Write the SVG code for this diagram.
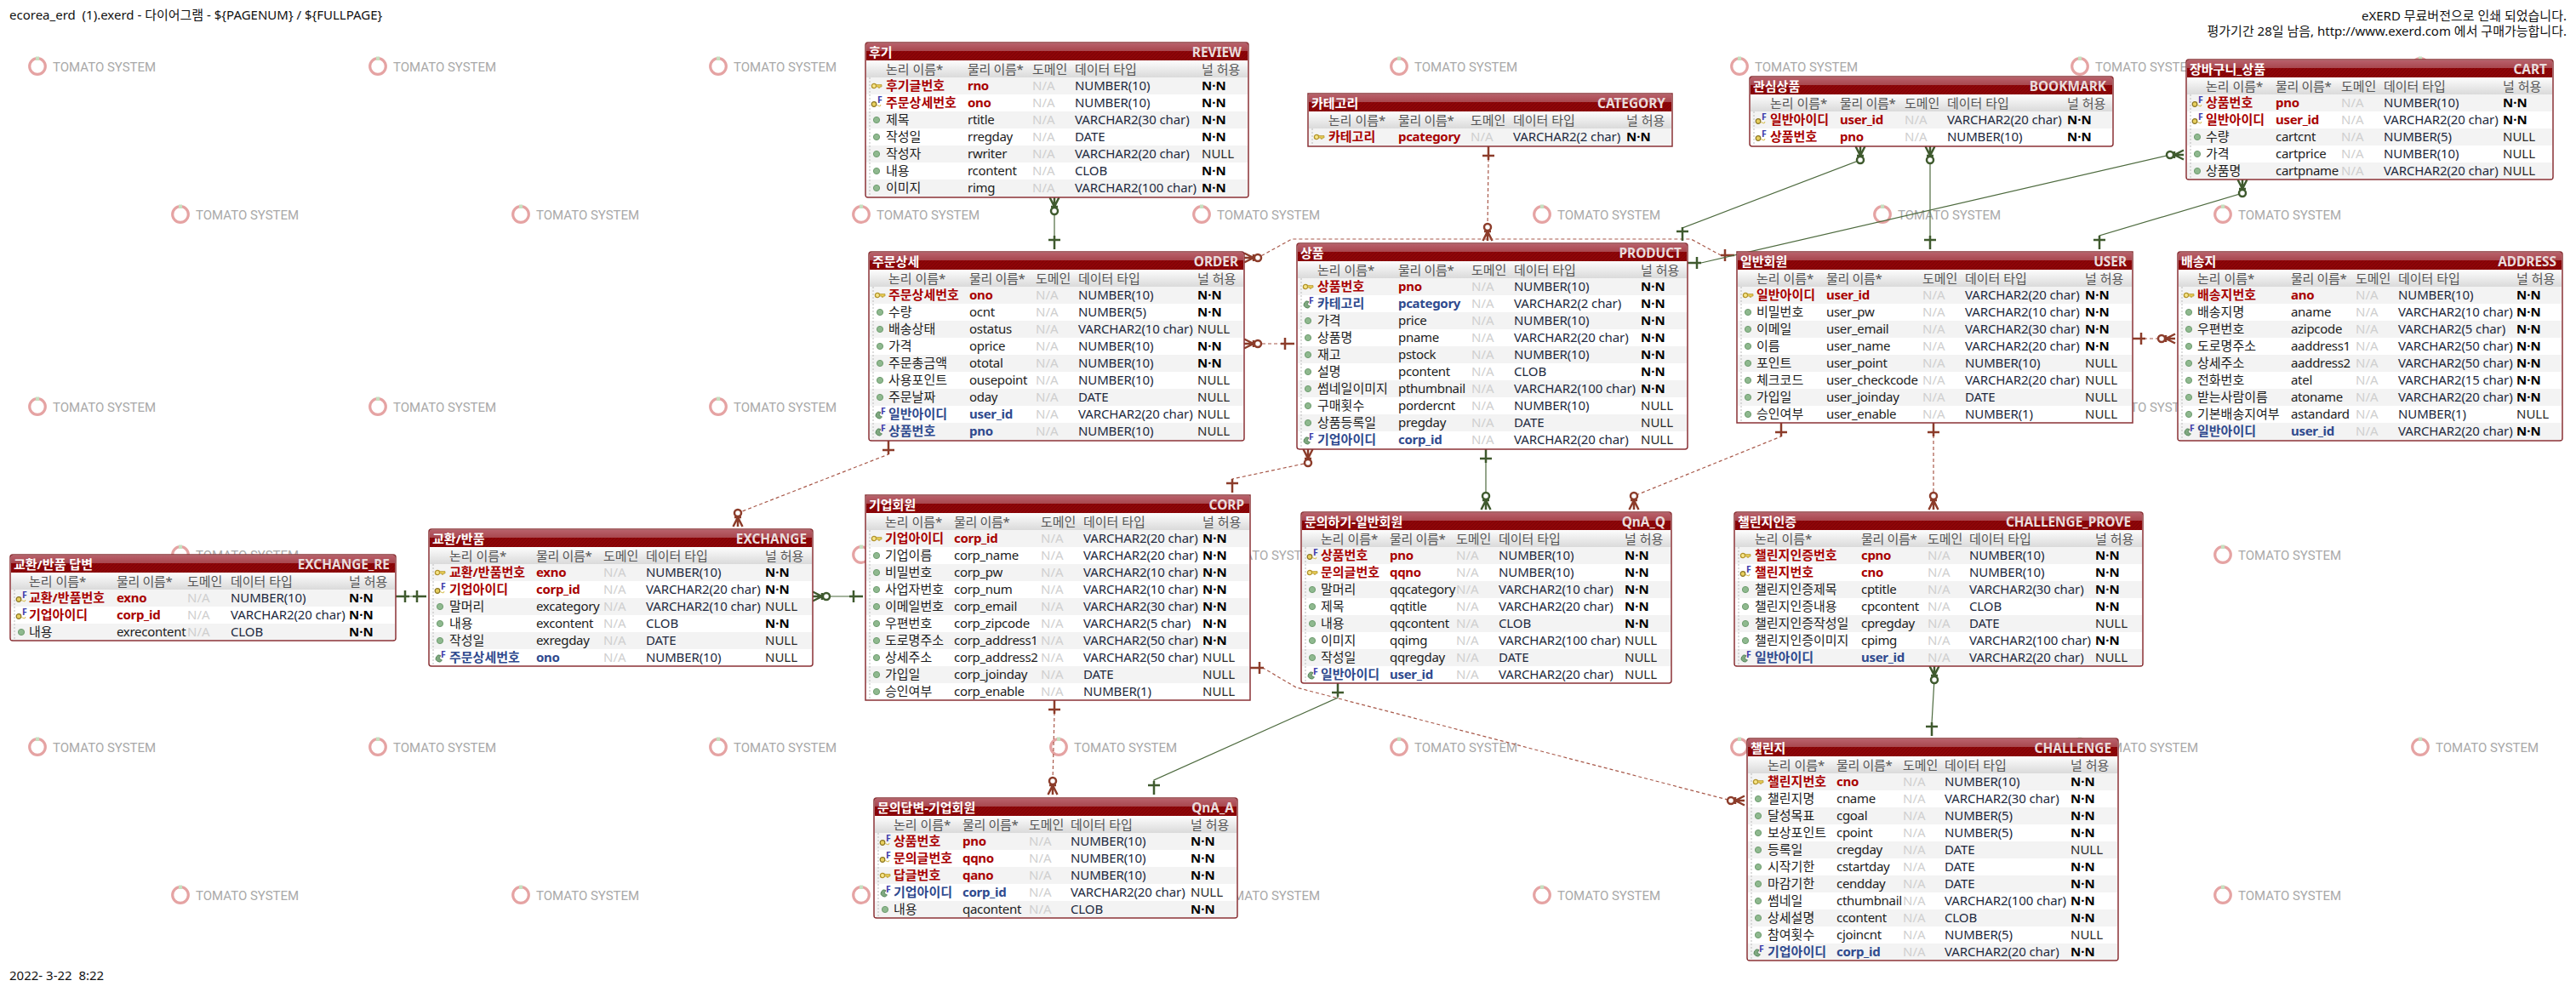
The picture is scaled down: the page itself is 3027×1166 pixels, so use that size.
<svg xmlns="http://www.w3.org/2000/svg" width="3027" height="1166" viewBox="0 0 3027 1166">
<style>
text{font-family:"Noto Sans","Noto Sans CJK KR",sans-serif;font-size:15px;fill:#1c1c1c}
text[x="104"],text[x="105"],text[x="106"],text[x="118"],text[x="119"],text[x="120"],text[x="125"],text[x="126"],text[x="133"],text[x="149"]{letter-spacing:-.3px}
.page{font-size:15px;fill:#111}
.wm{font-family:Roboto,"Noto Sans",sans-serif;font-size:15px;fill:#a9a9a9}
.fr{fill:#fff;stroke:#8a3236;stroke-width:1.5}
.t1{fill:url(#hg)}
.t2{fill:url(#hatch)}
.ch{fill:url(#cg)}
.z{fill:#f3f3f3}
.v{stroke:#bbb;stroke-width:1;stroke-dasharray:2 2}
.tl{font-weight:700;fill:#fff}
.tr{font-weight:700;fill:#eadddd;text-anchor:end;font-size:15.4px}
.h{fill:#555}
.k{font-weight:700;fill:#a80000}
.f{font-weight:700;fill:#2f4a8e}
.d{fill:#cfcfcf}
.t{fill:#222a40;letter-spacing:-.12px}
.b{font-weight:700;fill:#000}
.u{fill:#2a2a2a}
.ic{font-size:10.5px;font-weight:700;fill:#3c3caa}
.g{fill:none;stroke:#4d6a3e;stroke-width:1.2}
.r{fill:none;stroke:#a8594a;stroke-width:1.2;stroke-dasharray:4 3}
.mg{stroke:#3f5a2e;fill:none;stroke-width:2.5}
.mr{stroke:#8c3c2a;fill:none;stroke-width:2.5}
</style>
<defs>
<linearGradient id="hg" x1="0" y1="0" x2="0" y2="1"><stop offset="0" stop-color="#b8606a"/><stop offset="1" stop-color="#a8474e"/></linearGradient>
<linearGradient id="cg" x1="0" y1="0" x2="0" y2="1"><stop offset="0" stop-color="#fdfdfd"/><stop offset="1" stop-color="#dadada"/></linearGradient>
<pattern id="hatch" width="4" height="4" patternUnits="userSpaceOnUse"><rect width="4" height="4" fill="#8e0508"/><path d="M0 4L4 0" stroke="#7c0406" stroke-width="1"/></pattern>
<g id="rg"><circle cx="0" cy="0" r="9.3" fill="none" stroke="#e5a3a3" stroke-width="3.2"/><rect x="-2" y="-11.5" width="4" height="4.5" fill="#c6e0c0"/></g>
<circle id="o" cx="13" cy="0" r="3.6" fill="#8fb98f" stroke="#6f9d70"/>
<g id="ky"><circle cx="10" cy="0" r="2.6" fill="#f7e68a" stroke="#b0922a" stroke-width="1.3"/><path d="M12.5 -1.4H19V1H17V2.2H15V1H12.5Z" fill="#e6cc55" stroke="#b0922a" stroke-width=".7"/></g>
<g id="pf"><circle cx="10" cy="1.5" r="2.8" fill="#e8d060" stroke="#8a7420" stroke-width="1.2"/><text class="ic" x="14" y="0">F</text><path d="M13 2.5L17 4L18 2" fill="none" stroke="#d8bf50"/></g>
<g id="fk"><path d="M14 -2.5A4 4 0 1 0 15.5 3L12 1Z" fill="#7fa87f" stroke="#4f7f55" stroke-width=".8"/><text class="ic" x="14" y="0">F</text></g>
<marker id="g1" markerUnits="userSpaceOnUse" markerWidth="30" markerHeight="24" viewBox="-26 -12 30 24" refX="0" refY="0" orient="auto-start-reverse"><path class="mg" d="M-16 0H0M-11 -7V7"/></marker>
<marker id="r1" markerUnits="userSpaceOnUse" markerWidth="30" markerHeight="24" viewBox="-26 -12 30 24" refX="0" refY="0" orient="auto-start-reverse"><path class="mr" d="M-16 0H0M-11 -7V7"/></marker>
<marker id="gm" markerUnits="userSpaceOnUse" markerWidth="30" markerHeight="24" viewBox="-26 -12 30 24" refX="0" refY="0" orient="auto-start-reverse"><path class="mg" d="M-11 -4V4M-11 0L0 -5.5M-11 0H0M-11 0L0 5.5"/><circle class="mg" cx="-16" cy="0" r="4" style="fill:#fff"/></marker>
<marker id="rm" markerUnits="userSpaceOnUse" markerWidth="30" markerHeight="24" viewBox="-26 -12 30 24" refX="0" refY="0" orient="auto-start-reverse"><path class="mr" d="M-11 -4V4M-11 0L0 -5.5M-11 0H0M-11 0L0 5.5"/><circle class="mr" cx="-16" cy="0" r="4" style="fill:#fff"/></marker>
</defs>
<rect width="3027" height="1166" fill="#fff"/>
<text class="page" x="11" y="23" xml:space="preserve">ecorea_erd  (1).exerd - 다이어그램 - ${PAGENUM} / ${FULLPAGE}</text>
<text class="page" x="3016" y="24" text-anchor="end">eXERD 무료버전으로 인쇄 되었습니다.</text>
<text class="page" x="3016" y="42" text-anchor="end">평가기간 28일 남음, http://www.exerd.com 에서 구매가능합니다.</text>
<text class="page" x="11" y="1152" xml:space="preserve">2022- 3-22  8:22</text>
<g id="watermarks">
<use href="#rg" x="44" y="78"/><text class="wm" x="62" y="84">TOMATO SYSTEM</text>
<use href="#rg" x="444" y="78"/><text class="wm" x="462" y="84">TOMATO SYSTEM</text>
<use href="#rg" x="844" y="78"/><text class="wm" x="862" y="84">TOMATO SYSTEM</text>
<use href="#rg" x="1244" y="78"/><text class="wm" x="1262" y="84">TOMATO SYSTEM</text>
<use href="#rg" x="1644" y="78"/><text class="wm" x="1662" y="84">TOMATO SYSTEM</text>
<use href="#rg" x="2044" y="78"/><text class="wm" x="2062" y="84">TOMATO SYSTEM</text>
<use href="#rg" x="2444" y="78"/><text class="wm" x="2462" y="84">TOMATO SYSTEM</text>
<use href="#rg" x="2844" y="78"/><text class="wm" x="2862" y="84">TOMATO SYSTEM</text>
<use href="#rg" x="212" y="252"/><text class="wm" x="230" y="258">TOMATO SYSTEM</text>
<use href="#rg" x="612" y="252"/><text class="wm" x="630" y="258">TOMATO SYSTEM</text>
<use href="#rg" x="1012" y="252"/><text class="wm" x="1030" y="258">TOMATO SYSTEM</text>
<use href="#rg" x="1412" y="252"/><text class="wm" x="1430" y="258">TOMATO SYSTEM</text>
<use href="#rg" x="1812" y="252"/><text class="wm" x="1830" y="258">TOMATO SYSTEM</text>
<use href="#rg" x="2212" y="252"/><text class="wm" x="2230" y="258">TOMATO SYSTEM</text>
<use href="#rg" x="2612" y="252"/><text class="wm" x="2630" y="258">TOMATO SYSTEM</text>
<use href="#rg" x="44" y="478"/><text class="wm" x="62" y="484">TOMATO SYSTEM</text>
<use href="#rg" x="444" y="478"/><text class="wm" x="462" y="484">TOMATO SYSTEM</text>
<use href="#rg" x="844" y="478"/><text class="wm" x="862" y="484">TOMATO SYSTEM</text>
<use href="#rg" x="2444" y="478"/><text class="wm" x="2462" y="484">TOMATO SYSTEM</text>
<use href="#rg" x="212" y="652"/><text class="wm" x="230" y="658">TOMATO SYSTEM</text>
<use href="#rg" x="1012" y="652"/>
<text class="wm" x="1430" y="658">TOMATO SYSTEM</text>
<use href="#rg" x="1412" y="652"/>
<use href="#rg" x="2612" y="652"/><text class="wm" x="2630" y="658">TOMATO SYSTEM</text>
<use href="#rg" x="44" y="878"/><text class="wm" x="62" y="884">TOMATO SYSTEM</text>
<use href="#rg" x="444" y="878"/><text class="wm" x="462" y="884">TOMATO SYSTEM</text>
<use href="#rg" x="844" y="878"/><text class="wm" x="862" y="884">TOMATO SYSTEM</text>
<use href="#rg" x="1244" y="878"/><text class="wm" x="1262" y="884">TOMATO SYSTEM</text>
<use href="#rg" x="1644" y="878"/><text class="wm" x="1662" y="884">TOMATO SYSTEM</text>
<use href="#rg" x="2044" y="878"/><text class="wm" x="2062" y="884">TOMATO SYSTEM</text>
<use href="#rg" x="2444" y="878"/><text class="wm" x="2462" y="884">TOMATO SYSTEM</text>
<use href="#rg" x="2844" y="878"/><text class="wm" x="2862" y="884">TOMATO SYSTEM</text>
<use href="#rg" x="212" y="1052"/><text class="wm" x="230" y="1058">TOMATO SYSTEM</text>
<use href="#rg" x="612" y="1052"/><text class="wm" x="630" y="1058">TOMATO SYSTEM</text>
<use href="#rg" x="1012" y="1052"/><text class="wm" x="1030" y="1058">TOMATO SYSTEM</text>
<use href="#rg" x="1412" y="1052"/><text class="wm" x="1430" y="1058">TOMATO SYSTEM</text>
<use href="#rg" x="1812" y="1052"/><text class="wm" x="1830" y="1058">TOMATO SYSTEM</text>
<use href="#rg" x="2612" y="1052"/><text class="wm" x="2630" y="1058">TOMATO SYSTEM</text>
</g>
<g id="connectors">
<polyline class="g" points="1239,232 1239,293" marker-start="url(#gm)" marker-end="url(#g1)"/>
<polyline class="r" points="1749,172 1749,188 1748,267 1748,283" marker-start="url(#r1)" marker-end="url(#rm)"/>
<polyline class="r" points="1462,303 1478,303 1518,281 1987,281 2022,300 2038,300" marker-start="url(#rm)" marker-end="url(#r1)"/>
<polyline class="r" points="1462,404 1521,404" marker-start="url(#rm)" marker-end="url(#r1)"/>
<polyline class="r" points="1044,518 1044,534 867,603 867,619" marker-start="url(#r1)" marker-end="url(#rm)"/>
<polyline class="g" points="465,701 501,701" marker-start="url(#g1)" marker-end="url(#g1)"/>
<polyline class="g" points="955,701 1014,701" marker-start="url(#gm)" marker-end="url(#g1)"/>
<polyline class="g" points="1746,528 1746,599" marker-start="url(#g1)" marker-end="url(#gm)"/>
<polyline class="r" points="1448,579 1448,563 1537,544 1537,528" marker-start="url(#r1)" marker-end="url(#rm)"/>
<polyline class="r" points="2093,497 2093,513 1920,583 1920,599" marker-start="url(#r1)" marker-end="url(#rm)"/>
<polyline class="r" points="2272,497 2272,599" marker-start="url(#r1)" marker-end="url(#rm)"/>
<polyline class="g" points="2273,783 2273,798 2270,850 2270,865" marker-start="url(#gm)" marker-end="url(#g1)"/>
<polyline class="r" points="1469,785 1484,785 1523,808 2034,941 2050,941" marker-start="url(#r1)" marker-end="url(#rm)"/>
<polyline class="g" points="1572,803 1572,820 1356,917 1356,934" marker-start="url(#g1)" marker-end="url(#g1)"/>
<polyline class="r" points="1239,823 1239,839 1237,918 1237,934" marker-start="url(#r1)" marker-end="url(#rm)"/>
<polyline class="g" points="2186,172 2186,188 1977,268 1977,283" marker-start="url(#gm)" marker-end="url(#g1)"/>
<polyline class="g" points="2268,172 2268,293" marker-start="url(#gm)" marker-end="url(#g1)"/>
<polyline class="g" points="1983,309 1999,309 2550,182 2566,182" marker-start="url(#g1)" marker-end="url(#gm)"/>
<polyline class="g" points="2635,211 2635,227 2467,277 2467,293" marker-start="url(#gm)" marker-end="url(#g1)"/>
<polyline class="r" points="2505,398 2556,398" marker-start="url(#r1)" marker-end="url(#rm)"/>
</g>
<g id="REVIEW" transform="translate(1017,50)"><rect class="fr" width="450" height="182" rx="3"/><rect class="t1" x="1" y="1" width="448" height="9"/><rect class="t2" x="1" y="10" width="448" height="11"/><rect class="ch" x="1" y="21" width="448" height="20"/>
<rect class="z" x="1" y="41" width="448" height="20"/><rect class="z" x="1" y="81" width="448" height="20"/><rect class="z" x="1" y="121" width="448" height="20"/><rect class="z" x="1" y="161" width="448" height="20"/><line class="v" x1="5" x2="5" y1="41" y2="181"/>
<text class="tl" x="4" y="17">후기</text><text class="tr" x="442" y="17">REVIEW</text>
<text class="h" x="24" y="37">논리 이름*</text><text class="h" x="120" y="37">물리 이름*</text><text class="h" x="196" y="37">도메인</text><text class="h" x="246" y="37">데이터 타입</text><text class="h" x="395" y="37">널 허용</text>
<use href="#ky" y="51"/><text class="k" x="24" y="56">후기글번호</text><text class="k" x="120" y="56">rno</text><text class="d" x="196" y="56">N/A</text><text class="t" x="246" y="56">NUMBER(10)</text><text class="b" x="395" y="56">N·N</text>
<use href="#pf" y="71"/><text class="k" x="24" y="76">주문상세번호</text><text class="k" x="120" y="76">ono</text><text class="d" x="196" y="76">N/A</text><text class="t" x="246" y="76">NUMBER(10)</text><text class="b" x="395" y="76">N·N</text>
<use href="#o" y="91"/><text x="24" y="96">제목</text><text x="120" y="96">rtitle</text><text class="d" x="196" y="96">N/A</text><text class="t" x="246" y="96">VARCHAR2(30 char)</text><text class="b" x="395" y="96">N·N</text>
<use href="#o" y="111"/><text x="24" y="116">작성일</text><text x="120" y="116">rregday</text><text class="d" x="196" y="116">N/A</text><text class="t" x="246" y="116">DATE</text><text class="b" x="395" y="116">N·N</text>
<use href="#o" y="131"/><text x="24" y="136">작성자</text><text x="120" y="136">rwriter</text><text class="d" x="196" y="136">N/A</text><text class="t" x="246" y="136">VARCHAR2(20 char)</text><text class="u" x="395" y="136">NULL</text>
<use href="#o" y="151"/><text x="24" y="156">내용</text><text x="120" y="156">rcontent</text><text class="d" x="196" y="156">N/A</text><text class="t" x="246" y="156">CLOB</text><text class="b" x="395" y="156">N·N</text>
<use href="#o" y="171"/><text x="24" y="176">이미지</text><text x="120" y="176">rimg</text><text class="d" x="196" y="176">N/A</text><text class="t" x="246" y="176">VARCHAR2(100 char)</text><text class="b" x="395" y="176">N·N</text>
</g>
<g id="CATEGORY" transform="translate(1537,110)"><rect class="fr" width="428" height="62"/><rect class="t1" x="1" y="1" width="426" height="9"/><rect class="t2" x="1" y="10" width="426" height="11"/><rect class="ch" x="1" y="21" width="426" height="20"/>
<rect class="z" x="1" y="41" width="426" height="20"/><line class="v" x1="5" x2="5" y1="41" y2="61"/>
<text class="tl" x="4" y="17">카테고리</text><text class="tr" x="420" y="17">CATEGORY</text>
<text class="h" x="24" y="37">논리 이름*</text><text class="h" x="106" y="37">물리 이름*</text><text class="h" x="191" y="37">도메인</text><text class="h" x="241" y="37">데이터 타입</text><text class="h" x="374" y="37">널 허용</text>
<use href="#ky" y="51"/><text class="k" x="24" y="56">카테고리</text><text class="k" x="106" y="56">pcategory</text><text class="d" x="191" y="56">N/A</text><text class="t" x="241" y="56">VARCHAR2(2 char)</text><text class="b" x="374" y="56">N·N</text>
</g>
<g id="BOOKMARK" transform="translate(2056,90)"><rect class="fr" width="427" height="82" rx="3"/><rect class="t1" x="1" y="1" width="425" height="9"/><rect class="t2" x="1" y="10" width="425" height="11"/><rect class="ch" x="1" y="21" width="425" height="20"/>
<rect class="z" x="1" y="41" width="425" height="20"/><line class="v" x1="5" x2="5" y1="41" y2="81"/>
<text class="tl" x="4" y="17">관심상품</text><text class="tr" x="419" y="17">BOOKMARK</text>
<text class="h" x="24" y="37">논리 이름*</text><text class="h" x="106" y="37">물리 이름*</text><text class="h" x="182" y="37">도메인</text><text class="h" x="232" y="37">데이터 타입</text><text class="h" x="373" y="37">널 허용</text>
<use href="#pf" y="51"/><text class="k" x="24" y="56">일반아이디</text><text class="k" x="106" y="56">user_id</text><text class="d" x="182" y="56">N/A</text><text class="t" x="232" y="56">VARCHAR2(20 char)</text><text class="b" x="373" y="56">N·N</text>
<use href="#pf" y="71"/><text class="k" x="24" y="76">상품번호</text><text class="k" x="106" y="76">pno</text><text class="d" x="182" y="76">N/A</text><text class="t" x="232" y="76">NUMBER(10)</text><text class="b" x="373" y="76">N·N</text>
</g>
<g id="CART" transform="translate(2569,70)"><rect class="fr" width="431" height="141" rx="3"/><rect class="t1" x="1" y="1" width="429" height="9"/><rect class="t2" x="1" y="10" width="429" height="11"/><rect class="ch" x="1" y="21" width="429" height="20"/>
<rect class="z" x="1" y="41" width="429" height="20"/><rect class="z" x="1" y="81" width="429" height="20"/><rect class="z" x="1" y="121" width="429" height="19"/><line class="v" x1="5" x2="5" y1="41" y2="140"/>
<text class="tl" x="4" y="17">장바구니_상품</text><text class="tr" x="424" y="17">CART</text>
<text class="h" x="23" y="37">논리 이름*</text><text class="h" x="105" y="37">물리 이름*</text><text class="h" x="182" y="37">도메인</text><text class="h" x="232" y="37">데이터 타입</text><text class="h" x="372" y="37">널 허용</text>
<use href="#pf" y="51"/><text class="k" x="23" y="56">상품번호</text><text class="k" x="105" y="56">pno</text><text class="d" x="182" y="56">N/A</text><text class="t" x="232" y="56">NUMBER(10)</text><text class="b" x="372" y="56">N·N</text>
<use href="#pf" y="71"/><text class="k" x="23" y="76">일반아이디</text><text class="k" x="105" y="76">user_id</text><text class="d" x="182" y="76">N/A</text><text class="t" x="232" y="76">VARCHAR2(20 char)</text><text class="b" x="372" y="76">N·N</text>
<use href="#o" y="91"/><text x="23" y="96">수량</text><text x="105" y="96">cartcnt</text><text class="d" x="182" y="96">N/A</text><text class="t" x="232" y="96">NUMBER(5)</text><text class="u" x="372" y="96">NULL</text>
<use href="#o" y="111"/><text x="23" y="116">가격</text><text x="105" y="116">cartprice</text><text class="d" x="182" y="116">N/A</text><text class="t" x="232" y="116">NUMBER(10)</text><text class="u" x="372" y="116">NULL</text>
<use href="#o" y="131"/><text x="23" y="136">상품명</text><text x="105" y="136">cartpname</text><text class="d" x="182" y="136">N/A</text><text class="t" x="232" y="136">VARCHAR2(20 char)</text><text class="u" x="372" y="136">NULL</text>
</g>
<g id="ORDER" transform="translate(1021,296)"><rect class="fr" width="441" height="222" rx="3"/><rect class="t1" x="1" y="1" width="439" height="9"/><rect class="t2" x="1" y="10" width="439" height="11"/><rect class="ch" x="1" y="21" width="439" height="20"/>
<rect class="z" x="1" y="41" width="439" height="20"/><rect class="z" x="1" y="81" width="439" height="20"/><rect class="z" x="1" y="121" width="439" height="20"/><rect class="z" x="1" y="161" width="439" height="20"/><rect class="z" x="1" y="201" width="439" height="20"/><line class="v" x1="5" x2="5" y1="41" y2="221"/>
<text class="tl" x="4" y="17">주문상세</text><text class="tr" x="434" y="17">ORDER</text>
<text class="h" x="23" y="37">논리 이름*</text><text class="h" x="118" y="37">물리 이름*</text><text class="h" x="196" y="37">도메인</text><text class="h" x="246" y="37">데이터 타입</text><text class="h" x="386" y="37">널 허용</text>
<use href="#ky" y="51"/><text class="k" x="23" y="56">주문상세번호</text><text class="k" x="118" y="56">ono</text><text class="d" x="196" y="56">N/A</text><text class="t" x="246" y="56">NUMBER(10)</text><text class="b" x="386" y="56">N·N</text>
<use href="#o" y="71"/><text x="23" y="76">수량</text><text x="118" y="76">ocnt</text><text class="d" x="196" y="76">N/A</text><text class="t" x="246" y="76">NUMBER(5)</text><text class="b" x="386" y="76">N·N</text>
<use href="#o" y="91"/><text x="23" y="96">배송상태</text><text x="118" y="96">ostatus</text><text class="d" x="196" y="96">N/A</text><text class="t" x="246" y="96">VARCHAR2(10 char)</text><text class="u" x="386" y="96">NULL</text>
<use href="#o" y="111"/><text x="23" y="116">가격</text><text x="118" y="116">oprice</text><text class="d" x="196" y="116">N/A</text><text class="t" x="246" y="116">NUMBER(10)</text><text class="b" x="386" y="116">N·N</text>
<use href="#o" y="131"/><text x="23" y="136">주문총금액</text><text x="118" y="136">ototal</text><text class="d" x="196" y="136">N/A</text><text class="t" x="246" y="136">NUMBER(10)</text><text class="b" x="386" y="136">N·N</text>
<use href="#o" y="151"/><text x="23" y="156">사용포인트</text><text x="118" y="156">ousepoint</text><text class="d" x="196" y="156">N/A</text><text class="t" x="246" y="156">NUMBER(10)</text><text class="u" x="386" y="156">NULL</text>
<use href="#o" y="171"/><text x="23" y="176">주문날짜</text><text x="118" y="176">oday</text><text class="d" x="196" y="176">N/A</text><text class="t" x="246" y="176">DATE</text><text class="u" x="386" y="176">NULL</text>
<use href="#fk" y="191"/><text class="f" x="23" y="196">일반아이디</text><text class="f" x="118" y="196">user_id</text><text class="d" x="196" y="196">N/A</text><text class="t" x="246" y="196">VARCHAR2(20 char)</text><text class="u" x="386" y="196">NULL</text>
<use href="#fk" y="211"/><text class="f" x="23" y="216">상품번호</text><text class="f" x="118" y="216">pno</text><text class="d" x="196" y="216">N/A</text><text class="t" x="246" y="216">NUMBER(10)</text><text class="u" x="386" y="216">NULL</text>
</g>
<g id="PRODUCT" transform="translate(1524,286)"><rect class="fr" width="459" height="242" rx="3"/><rect class="t1" x="1" y="1" width="457" height="9"/><rect class="t2" x="1" y="10" width="457" height="11"/><rect class="ch" x="1" y="21" width="457" height="20"/>
<rect class="z" x="1" y="41" width="457" height="20"/><rect class="z" x="1" y="81" width="457" height="20"/><rect class="z" x="1" y="121" width="457" height="20"/><rect class="z" x="1" y="161" width="457" height="20"/><rect class="z" x="1" y="201" width="457" height="20"/><line class="v" x1="5" x2="5" y1="41" y2="241"/>
<text class="tl" x="4" y="17">상품</text><text class="tr" x="452" y="17">PRODUCT</text>
<text class="h" x="24" y="37">논리 이름*</text><text class="h" x="119" y="37">물리 이름*</text><text class="h" x="205" y="37">도메인</text><text class="h" x="255" y="37">데이터 타입</text><text class="h" x="404" y="37">널 허용</text>
<use href="#ky" y="51"/><text class="k" x="24" y="56">상품번호</text><text class="k" x="119" y="56">pno</text><text class="d" x="205" y="56">N/A</text><text class="t" x="255" y="56">NUMBER(10)</text><text class="b" x="404" y="56">N·N</text>
<use href="#fk" y="71"/><text class="f" x="24" y="76">카테고리</text><text class="f" x="119" y="76">pcategory</text><text class="d" x="205" y="76">N/A</text><text class="t" x="255" y="76">VARCHAR2(2 char)</text><text class="b" x="404" y="76">N·N</text>
<use href="#o" y="91"/><text x="24" y="96">가격</text><text x="119" y="96">price</text><text class="d" x="205" y="96">N/A</text><text class="t" x="255" y="96">NUMBER(10)</text><text class="b" x="404" y="96">N·N</text>
<use href="#o" y="111"/><text x="24" y="116">상품명</text><text x="119" y="116">pname</text><text class="d" x="205" y="116">N/A</text><text class="t" x="255" y="116">VARCHAR2(20 char)</text><text class="b" x="404" y="116">N·N</text>
<use href="#o" y="131"/><text x="24" y="136">재고</text><text x="119" y="136">pstock</text><text class="d" x="205" y="136">N/A</text><text class="t" x="255" y="136">NUMBER(10)</text><text class="b" x="404" y="136">N·N</text>
<use href="#o" y="151"/><text x="24" y="156">설명</text><text x="119" y="156">pcontent</text><text class="d" x="205" y="156">N/A</text><text class="t" x="255" y="156">CLOB</text><text class="b" x="404" y="156">N·N</text>
<use href="#o" y="171"/><text x="24" y="176">썸네일이미지</text><text x="119" y="176">pthumbnail</text><text class="d" x="205" y="176">N/A</text><text class="t" x="255" y="176">VARCHAR2(100 char)</text><text class="b" x="404" y="176">N·N</text>
<use href="#o" y="191"/><text x="24" y="196">구매횟수</text><text x="119" y="196">pordercnt</text><text class="d" x="205" y="196">N/A</text><text class="t" x="255" y="196">NUMBER(10)</text><text class="u" x="404" y="196">NULL</text>
<use href="#o" y="211"/><text x="24" y="216">상품등록일</text><text x="119" y="216">pregday</text><text class="d" x="205" y="216">N/A</text><text class="t" x="255" y="216">DATE</text><text class="u" x="404" y="216">NULL</text>
<use href="#fk" y="231"/><text class="f" x="24" y="236">기업아이디</text><text class="f" x="119" y="236">corp_id</text><text class="d" x="205" y="236">N/A</text><text class="t" x="255" y="236">VARCHAR2(20 char)</text><text class="u" x="404" y="236">NULL</text>
</g>
<g id="USER" transform="translate(2041,296)"><rect class="fr" width="465" height="201"/><rect class="t1" x="1" y="1" width="463" height="9"/><rect class="t2" x="1" y="10" width="463" height="11"/><rect class="ch" x="1" y="21" width="463" height="20"/>
<rect class="z" x="1" y="41" width="463" height="20"/><rect class="z" x="1" y="81" width="463" height="20"/><rect class="z" x="1" y="121" width="463" height="20"/><rect class="z" x="1" y="161" width="463" height="20"/><line class="v" x1="5" x2="5" y1="41" y2="200"/>
<text class="tl" x="4" y="17">일반회원</text><text class="tr" x="458" y="17">USER</text>
<text class="h" x="23" y="37">논리 이름*</text><text class="h" x="105" y="37">물리 이름*</text><text class="h" x="218" y="37">도메인</text><text class="h" x="268" y="37">데이터 타입</text><text class="h" x="409" y="37">널 허용</text>
<use href="#ky" y="51"/><text class="k" x="23" y="56">일반아이디</text><text class="k" x="105" y="56">user_id</text><text class="d" x="218" y="56">N/A</text><text class="t" x="268" y="56">VARCHAR2(20 char)</text><text class="b" x="409" y="56">N·N</text>
<use href="#o" y="71"/><text x="23" y="76">비밀번호</text><text x="105" y="76">user_pw</text><text class="d" x="218" y="76">N/A</text><text class="t" x="268" y="76">VARCHAR2(10 char)</text><text class="b" x="409" y="76">N·N</text>
<use href="#o" y="91"/><text x="23" y="96">이메일</text><text x="105" y="96">user_email</text><text class="d" x="218" y="96">N/A</text><text class="t" x="268" y="96">VARCHAR2(30 char)</text><text class="b" x="409" y="96">N·N</text>
<use href="#o" y="111"/><text x="23" y="116">이름</text><text x="105" y="116">user_name</text><text class="d" x="218" y="116">N/A</text><text class="t" x="268" y="116">VARCHAR2(20 char)</text><text class="b" x="409" y="116">N·N</text>
<use href="#o" y="131"/><text x="23" y="136">포인트</text><text x="105" y="136">user_point</text><text class="d" x="218" y="136">N/A</text><text class="t" x="268" y="136">NUMBER(10)</text><text class="u" x="409" y="136">NULL</text>
<use href="#o" y="151"/><text x="23" y="156">체크코드</text><text x="105" y="156">user_checkcode</text><text class="d" x="218" y="156">N/A</text><text class="t" x="268" y="156">VARCHAR2(20 char)</text><text class="u" x="409" y="156">NULL</text>
<use href="#o" y="171"/><text x="23" y="176">가입일</text><text x="105" y="176">user_joinday</text><text class="d" x="218" y="176">N/A</text><text class="t" x="268" y="176">DATE</text><text class="u" x="409" y="176">NULL</text>
<use href="#o" y="191"/><text x="23" y="196">승인여부</text><text x="105" y="196">user_enable</text><text class="d" x="218" y="196">N/A</text><text class="t" x="268" y="196">NUMBER(1)</text><text class="u" x="409" y="196">NULL</text>
</g>
<g id="ADDRESS" transform="translate(2559,296)"><rect class="fr" width="452" height="222" rx="3"/><rect class="t1" x="1" y="1" width="450" height="9"/><rect class="t2" x="1" y="10" width="450" height="11"/><rect class="ch" x="1" y="21" width="450" height="20"/>
<rect class="z" x="1" y="41" width="450" height="20"/><rect class="z" x="1" y="81" width="450" height="20"/><rect class="z" x="1" y="121" width="450" height="20"/><rect class="z" x="1" y="161" width="450" height="20"/><rect class="z" x="1" y="201" width="450" height="20"/><line class="v" x1="5" x2="5" y1="41" y2="221"/>
<text class="tl" x="4" y="17">배송지</text><text class="tr" x="445" y="17">ADDRESS</text>
<text class="h" x="23" y="37">논리 이름*</text><text class="h" x="133" y="37">물리 이름*</text><text class="h" x="209" y="37">도메인</text><text class="h" x="259" y="37">데이터 타입</text><text class="h" x="398" y="37">널 허용</text>
<use href="#ky" y="51"/><text class="k" x="23" y="56">배송지번호</text><text class="k" x="133" y="56">ano</text><text class="d" x="209" y="56">N/A</text><text class="t" x="259" y="56">NUMBER(10)</text><text class="b" x="398" y="56">N·N</text>
<use href="#o" y="71"/><text x="23" y="76">배송지명</text><text x="133" y="76">aname</text><text class="d" x="209" y="76">N/A</text><text class="t" x="259" y="76">VARCHAR2(10 char)</text><text class="b" x="398" y="76">N·N</text>
<use href="#o" y="91"/><text x="23" y="96">우편번호</text><text x="133" y="96">azipcode</text><text class="d" x="209" y="96">N/A</text><text class="t" x="259" y="96">VARCHAR2(5 char)</text><text class="b" x="398" y="96">N·N</text>
<use href="#o" y="111"/><text x="23" y="116">도로명주소</text><text x="133" y="116">aaddress1</text><text class="d" x="209" y="116">N/A</text><text class="t" x="259" y="116">VARCHAR2(50 char)</text><text class="b" x="398" y="116">N·N</text>
<use href="#o" y="131"/><text x="23" y="136">상세주소</text><text x="133" y="136">aaddress2</text><text class="d" x="209" y="136">N/A</text><text class="t" x="259" y="136">VARCHAR2(50 char)</text><text class="b" x="398" y="136">N·N</text>
<use href="#o" y="151"/><text x="23" y="156">전화번호</text><text x="133" y="156">atel</text><text class="d" x="209" y="156">N/A</text><text class="t" x="259" y="156">VARCHAR2(15 char)</text><text class="b" x="398" y="156">N·N</text>
<use href="#o" y="171"/><text x="23" y="176">받는사람이름</text><text x="133" y="176">atoname</text><text class="d" x="209" y="176">N/A</text><text class="t" x="259" y="176">VARCHAR2(20 char)</text><text class="b" x="398" y="176">N·N</text>
<use href="#o" y="191"/><text x="23" y="196">기본배송지여부</text><text x="133" y="196">astandard</text><text class="d" x="209" y="196">N/A</text><text class="t" x="259" y="196">NUMBER(1)</text><text class="u" x="398" y="196">NULL</text>
<use href="#fk" y="211"/><text class="f" x="23" y="216">일반아이디</text><text class="f" x="133" y="216">user_id</text><text class="d" x="209" y="216">N/A</text><text class="t" x="259" y="216">VARCHAR2(20 char)</text><text class="b" x="398" y="216">N·N</text>
</g>
<g id="EXCHANGE_RE" transform="translate(12,652)"><rect class="fr" width="453" height="101" rx="3"/><rect class="t1" x="1" y="1" width="451" height="9"/><rect class="t2" x="1" y="10" width="451" height="11"/><rect class="ch" x="1" y="21" width="451" height="20"/>
<rect class="z" x="1" y="41" width="451" height="20"/><rect class="z" x="1" y="81" width="451" height="19"/><line class="v" x1="5" x2="5" y1="41" y2="100"/>
<text class="tl" x="4" y="17">교환/반품 답변</text><text class="tr" x="446" y="17">EXCHANGE_RE</text>
<text class="h" x="22" y="37">논리 이름*</text><text class="h" x="125" y="37">물리 이름*</text><text class="h" x="208" y="37">도메인</text><text class="h" x="259" y="37">데이터 타입</text><text class="h" x="398" y="37">널 허용</text>
<use href="#pf" y="51"/><text class="k" x="22" y="56">교환/반품번호</text><text class="k" x="125" y="56">exno</text><text class="d" x="208" y="56">N/A</text><text class="t" x="259" y="56">NUMBER(10)</text><text class="b" x="398" y="56">N·N</text>
<use href="#pf" y="71"/><text class="k" x="22" y="76">기업아이디</text><text class="k" x="125" y="76">corp_id</text><text class="d" x="208" y="76">N/A</text><text class="t" x="259" y="76">VARCHAR2(20 char)</text><text class="b" x="398" y="76">N·N</text>
<use href="#o" y="91"/><text x="22" y="96">내용</text><text x="125" y="96">exrecontent</text><text class="d" x="208" y="96">N/A</text><text class="t" x="259" y="96">CLOB</text><text class="b" x="398" y="96">N·N</text>
</g>
<g id="EXCHANGE" transform="translate(504,622)"><rect class="fr" width="451" height="161" rx="3"/><rect class="t1" x="1" y="1" width="449" height="9"/><rect class="t2" x="1" y="10" width="449" height="11"/><rect class="ch" x="1" y="21" width="449" height="20"/>
<rect class="z" x="1" y="41" width="449" height="20"/><rect class="z" x="1" y="81" width="449" height="20"/><rect class="z" x="1" y="121" width="449" height="20"/><line class="v" x1="5" x2="5" y1="41" y2="160"/>
<text class="tl" x="4" y="17">교환/반품</text><text class="tr" x="444" y="17">EXCHANGE</text>
<text class="h" x="24" y="37">논리 이름*</text><text class="h" x="126" y="37">물리 이름*</text><text class="h" x="205" y="37">도메인</text><text class="h" x="255" y="37">데이터 타입</text><text class="h" x="395" y="37">널 허용</text>
<use href="#ky" y="51"/><text class="k" x="24" y="56">교환/반품번호</text><text class="k" x="126" y="56">exno</text><text class="d" x="205" y="56">N/A</text><text class="t" x="255" y="56">NUMBER(10)</text><text class="b" x="395" y="56">N·N</text>
<use href="#pf" y="71"/><text class="k" x="24" y="76">기업아이디</text><text class="k" x="126" y="76">corp_id</text><text class="d" x="205" y="76">N/A</text><text class="t" x="255" y="76">VARCHAR2(20 char)</text><text class="b" x="395" y="76">N·N</text>
<use href="#o" y="91"/><text x="24" y="96">말머리</text><text x="126" y="96">excategory</text><text class="d" x="205" y="96">N/A</text><text class="t" x="255" y="96">VARCHAR2(10 char)</text><text class="u" x="395" y="96">NULL</text>
<use href="#o" y="111"/><text x="24" y="116">내용</text><text x="126" y="116">excontent</text><text class="d" x="205" y="116">N/A</text><text class="t" x="255" y="116">CLOB</text><text class="b" x="395" y="116">N·N</text>
<use href="#o" y="131"/><text x="24" y="136">작성일</text><text x="126" y="136">exregday</text><text class="d" x="205" y="136">N/A</text><text class="t" x="255" y="136">DATE</text><text class="u" x="395" y="136">NULL</text>
<use href="#fk" y="151"/><text class="f" x="24" y="156">주문상세번호</text><text class="f" x="126" y="156">ono</text><text class="d" x="205" y="156">N/A</text><text class="t" x="255" y="156">NUMBER(10)</text><text class="u" x="395" y="156">NULL</text>
</g>
<g id="CORP" transform="translate(1017,582)"><rect class="fr" width="452" height="241"/><rect class="t1" x="1" y="1" width="450" height="9"/><rect class="t2" x="1" y="10" width="450" height="11"/><rect class="ch" x="1" y="21" width="450" height="20"/>
<rect class="z" x="1" y="41" width="450" height="20"/><rect class="z" x="1" y="81" width="450" height="20"/><rect class="z" x="1" y="121" width="450" height="20"/><rect class="z" x="1" y="161" width="450" height="20"/><rect class="z" x="1" y="201" width="450" height="20"/><line class="v" x1="5" x2="5" y1="41" y2="240"/>
<text class="tl" x="4" y="17">기업회원</text><text class="tr" x="445" y="17">CORP</text>
<text class="h" x="23" y="37">논리 이름*</text><text class="h" x="104" y="37">물리 이름*</text><text class="h" x="206" y="37">도메인</text><text class="h" x="256" y="37">데이터 타입</text><text class="h" x="396" y="37">널 허용</text>
<use href="#ky" y="51"/><text class="k" x="23" y="56">기업아이디</text><text class="k" x="104" y="56">corp_id</text><text class="d" x="206" y="56">N/A</text><text class="t" x="256" y="56">VARCHAR2(20 char)</text><text class="b" x="396" y="56">N·N</text>
<use href="#o" y="71"/><text x="23" y="76">기업이름</text><text x="104" y="76">corp_name</text><text class="d" x="206" y="76">N/A</text><text class="t" x="256" y="76">VARCHAR2(20 char)</text><text class="b" x="396" y="76">N·N</text>
<use href="#o" y="91"/><text x="23" y="96">비밀번호</text><text x="104" y="96">corp_pw</text><text class="d" x="206" y="96">N/A</text><text class="t" x="256" y="96">VARCHAR2(10 char)</text><text class="b" x="396" y="96">N·N</text>
<use href="#o" y="111"/><text x="23" y="116">사업자번호</text><text x="104" y="116">corp_num</text><text class="d" x="206" y="116">N/A</text><text class="t" x="256" y="116">VARCHAR2(10 char)</text><text class="b" x="396" y="116">N·N</text>
<use href="#o" y="131"/><text x="23" y="136">이메일번호</text><text x="104" y="136">corp_email</text><text class="d" x="206" y="136">N/A</text><text class="t" x="256" y="136">VARCHAR2(30 char)</text><text class="b" x="396" y="136">N·N</text>
<use href="#o" y="151"/><text x="23" y="156">우편번호</text><text x="104" y="156">corp_zipcode</text><text class="d" x="206" y="156">N/A</text><text class="t" x="256" y="156">VARCHAR2(5 char)</text><text class="b" x="396" y="156">N·N</text>
<use href="#o" y="171"/><text x="23" y="176">도로명주소</text><text x="104" y="176">corp_address1</text><text class="d" x="206" y="176">N/A</text><text class="t" x="256" y="176">VARCHAR2(50 char)</text><text class="b" x="396" y="176">N·N</text>
<use href="#o" y="191"/><text x="23" y="196">상세주소</text><text x="104" y="196">corp_address2</text><text class="d" x="206" y="196">N/A</text><text class="t" x="256" y="196">VARCHAR2(50 char)</text><text class="u" x="396" y="196">NULL</text>
<use href="#o" y="211"/><text x="23" y="216">가입일</text><text x="104" y="216">corp_joinday</text><text class="d" x="206" y="216">N/A</text><text class="t" x="256" y="216">DATE</text><text class="u" x="396" y="216">NULL</text>
<use href="#o" y="231"/><text x="23" y="236">승인여부</text><text x="104" y="236">corp_enable</text><text class="d" x="206" y="236">N/A</text><text class="t" x="256" y="236">NUMBER(1)</text><text class="u" x="396" y="236">NULL</text>
</g>
<g id="QnA_Q" transform="translate(1529,602)"><rect class="fr" width="435" height="201" rx="3"/><rect class="t1" x="1" y="1" width="433" height="9"/><rect class="t2" x="1" y="10" width="433" height="11"/><rect class="ch" x="1" y="21" width="433" height="20"/>
<rect class="z" x="1" y="41" width="433" height="20"/><rect class="z" x="1" y="81" width="433" height="20"/><rect class="z" x="1" y="121" width="433" height="20"/><rect class="z" x="1" y="161" width="433" height="20"/><line class="v" x1="5" x2="5" y1="41" y2="200"/>
<text class="tl" x="4" y="17">문의하기-일반회원</text><text class="tr" x="428" y="17">QnA_Q</text>
<text class="h" x="23" y="37">논리 이름*</text><text class="h" x="104" y="37">물리 이름*</text><text class="h" x="182" y="37">도메인</text><text class="h" x="232" y="37">데이터 타입</text><text class="h" x="380" y="37">널 허용</text>
<use href="#pf" y="51"/><text class="k" x="23" y="56">상품번호</text><text class="k" x="104" y="56">pno</text><text class="d" x="182" y="56">N/A</text><text class="t" x="232" y="56">NUMBER(10)</text><text class="b" x="380" y="56">N·N</text>
<use href="#ky" y="71"/><text class="k" x="23" y="76">문의글번호</text><text class="k" x="104" y="76">qqno</text><text class="d" x="182" y="76">N/A</text><text class="t" x="232" y="76">NUMBER(10)</text><text class="b" x="380" y="76">N·N</text>
<use href="#o" y="91"/><text x="23" y="96">말머리</text><text x="104" y="96">qqcategory</text><text class="d" x="182" y="96">N/A</text><text class="t" x="232" y="96">VARCHAR2(10 char)</text><text class="b" x="380" y="96">N·N</text>
<use href="#o" y="111"/><text x="23" y="116">제목</text><text x="104" y="116">qqtitle</text><text class="d" x="182" y="116">N/A</text><text class="t" x="232" y="116">VARCHAR2(20 char)</text><text class="b" x="380" y="116">N·N</text>
<use href="#o" y="131"/><text x="23" y="136">내용</text><text x="104" y="136">qqcontent</text><text class="d" x="182" y="136">N/A</text><text class="t" x="232" y="136">CLOB</text><text class="b" x="380" y="136">N·N</text>
<use href="#o" y="151"/><text x="23" y="156">이미지</text><text x="104" y="156">qqimg</text><text class="d" x="182" y="156">N/A</text><text class="t" x="232" y="156">VARCHAR2(100 char)</text><text class="u" x="380" y="156">NULL</text>
<use href="#o" y="171"/><text x="23" y="176">작성일</text><text x="104" y="176">qqregday</text><text class="d" x="182" y="176">N/A</text><text class="t" x="232" y="176">DATE</text><text class="u" x="380" y="176">NULL</text>
<use href="#fk" y="191"/><text class="f" x="23" y="196">일반아이디</text><text class="f" x="104" y="196">user_id</text><text class="d" x="182" y="196">N/A</text><text class="t" x="232" y="196">VARCHAR2(20 char)</text><text class="u" x="380" y="196">NULL</text>
</g>
<g id="CHALLENGE_PROVE" transform="translate(2038,602)"><rect class="fr" width="480" height="181" rx="3"/><rect class="t1" x="1" y="1" width="478" height="9"/><rect class="t2" x="1" y="10" width="478" height="11"/><rect class="ch" x="1" y="21" width="478" height="20"/>
<rect class="z" x="1" y="41" width="478" height="20"/><rect class="z" x="1" y="81" width="478" height="20"/><rect class="z" x="1" y="121" width="478" height="20"/><rect class="z" x="1" y="161" width="478" height="19"/><line class="v" x1="5" x2="5" y1="41" y2="180"/>
<text class="tl" x="4" y="17">챌린지인증</text><text class="tr" x="466" y="17">CHALLENGE_PROVE</text>
<text class="h" x="24" y="37">논리 이름*</text><text class="h" x="149" y="37">물리 이름*</text><text class="h" x="227" y="37">도메인</text><text class="h" x="276" y="37">데이터 타입</text><text class="h" x="424" y="37">널 허용</text>
<use href="#ky" y="51"/><text class="k" x="24" y="56">챌린지인증번호</text><text class="k" x="149" y="56">cpno</text><text class="d" x="227" y="56">N/A</text><text class="t" x="276" y="56">NUMBER(10)</text><text class="b" x="424" y="56">N·N</text>
<use href="#pf" y="71"/><text class="k" x="24" y="76">챌린지번호</text><text class="k" x="149" y="76">cno</text><text class="d" x="227" y="76">N/A</text><text class="t" x="276" y="76">NUMBER(10)</text><text class="b" x="424" y="76">N·N</text>
<use href="#o" y="91"/><text x="24" y="96">챌린지인증제목</text><text x="149" y="96">cptitle</text><text class="d" x="227" y="96">N/A</text><text class="t" x="276" y="96">VARCHAR2(30 char)</text><text class="b" x="424" y="96">N·N</text>
<use href="#o" y="111"/><text x="24" y="116">챌린지인증내용</text><text x="149" y="116">cpcontent</text><text class="d" x="227" y="116">N/A</text><text class="t" x="276" y="116">CLOB</text><text class="b" x="424" y="116">N·N</text>
<use href="#o" y="131"/><text x="24" y="136">챌린지인증작성일</text><text x="149" y="136">cpregday</text><text class="d" x="227" y="136">N/A</text><text class="t" x="276" y="136">DATE</text><text class="u" x="424" y="136">NULL</text>
<use href="#o" y="151"/><text x="24" y="156">챌린지인증이미지</text><text x="149" y="156">cpimg</text><text class="d" x="227" y="156">N/A</text><text class="t" x="276" y="156">VARCHAR2(100 char)</text><text class="b" x="424" y="156">N·N</text>
<use href="#fk" y="171"/><text class="f" x="24" y="176">일반아이디</text><text class="f" x="149" y="176">user_id</text><text class="d" x="227" y="176">N/A</text><text class="t" x="276" y="176">VARCHAR2(20 char)</text><text class="u" x="424" y="176">NULL</text>
</g>
<g id="QnA_A" transform="translate(1027,938)"><rect class="fr" width="427" height="141" rx="3"/><rect class="t1" x="1" y="1" width="425" height="9"/><rect class="t2" x="1" y="10" width="425" height="11"/><rect class="ch" x="1" y="21" width="425" height="20"/>
<rect class="z" x="1" y="41" width="425" height="20"/><rect class="z" x="1" y="81" width="425" height="20"/><rect class="z" x="1" y="121" width="425" height="19"/><line class="v" x1="5" x2="5" y1="41" y2="140"/>
<text class="tl" x="4" y="17">문의답변-기업회원</text><text class="tr" x="423" y="17">QnA_A</text>
<text class="h" x="23" y="37">논리 이름*</text><text class="h" x="104" y="37">물리 이름*</text><text class="h" x="182" y="37">도메인</text><text class="h" x="231" y="37">데이터 타입</text><text class="h" x="372" y="37">널 허용</text>
<use href="#pf" y="51"/><text class="k" x="23" y="56">상품번호</text><text class="k" x="104" y="56">pno</text><text class="d" x="182" y="56">N/A</text><text class="t" x="231" y="56">NUMBER(10)</text><text class="b" x="372" y="56">N·N</text>
<use href="#pf" y="71"/><text class="k" x="23" y="76">문의글번호</text><text class="k" x="104" y="76">qqno</text><text class="d" x="182" y="76">N/A</text><text class="t" x="231" y="76">NUMBER(10)</text><text class="b" x="372" y="76">N·N</text>
<use href="#ky" y="91"/><text class="k" x="23" y="96">답글번호</text><text class="k" x="104" y="96">qano</text><text class="d" x="182" y="96">N/A</text><text class="t" x="231" y="96">NUMBER(10)</text><text class="b" x="372" y="96">N·N</text>
<use href="#fk" y="111"/><text class="f" x="23" y="116">기업아이디</text><text class="f" x="104" y="116">corp_id</text><text class="d" x="182" y="116">N/A</text><text class="t" x="231" y="116">VARCHAR2(20 char)</text><text class="u" x="372" y="116">NULL</text>
<use href="#o" y="131"/><text x="23" y="136">내용</text><text x="104" y="136">qacontent</text><text class="d" x="182" y="136">N/A</text><text class="t" x="231" y="136">CLOB</text><text class="b" x="372" y="136">N·N</text>
</g>
<g id="CHALLENGE" transform="translate(2053,868)"><rect class="fr" width="436" height="261" rx="3"/><rect class="t1" x="1" y="1" width="434" height="9"/><rect class="t2" x="1" y="10" width="434" height="11"/><rect class="ch" x="1" y="21" width="434" height="20"/>
<rect class="z" x="1" y="41" width="434" height="20"/><rect class="z" x="1" y="81" width="434" height="20"/><rect class="z" x="1" y="121" width="434" height="20"/><rect class="z" x="1" y="161" width="434" height="20"/><rect class="z" x="1" y="201" width="434" height="20"/><rect class="z" x="1" y="241" width="434" height="19"/><line class="v" x1="5" x2="5" y1="41" y2="260"/>
<text class="tl" x="4" y="17">챌린지</text><text class="tr" x="428" y="17">CHALLENGE</text>
<text class="h" x="24" y="37">논리 이름*</text><text class="h" x="105" y="37">물리 이름*</text><text class="h" x="183" y="37">도메인</text><text class="h" x="232" y="37">데이터 타입</text><text class="h" x="380" y="37">널 허용</text>
<use href="#ky" y="51"/><text class="k" x="24" y="56">챌린지번호</text><text class="k" x="105" y="56">cno</text><text class="d" x="183" y="56">N/A</text><text class="t" x="232" y="56">NUMBER(10)</text><text class="b" x="380" y="56">N·N</text>
<use href="#o" y="71"/><text x="24" y="76">챌린지명</text><text x="105" y="76">cname</text><text class="d" x="183" y="76">N/A</text><text class="t" x="232" y="76">VARCHAR2(30 char)</text><text class="b" x="380" y="76">N·N</text>
<use href="#o" y="91"/><text x="24" y="96">달성목표</text><text x="105" y="96">cgoal</text><text class="d" x="183" y="96">N/A</text><text class="t" x="232" y="96">NUMBER(5)</text><text class="b" x="380" y="96">N·N</text>
<use href="#o" y="111"/><text x="24" y="116">보상포인트</text><text x="105" y="116">cpoint</text><text class="d" x="183" y="116">N/A</text><text class="t" x="232" y="116">NUMBER(5)</text><text class="b" x="380" y="116">N·N</text>
<use href="#o" y="131"/><text x="24" y="136">등록일</text><text x="105" y="136">cregday</text><text class="d" x="183" y="136">N/A</text><text class="t" x="232" y="136">DATE</text><text class="u" x="380" y="136">NULL</text>
<use href="#o" y="151"/><text x="24" y="156">시작기한</text><text x="105" y="156">cstartday</text><text class="d" x="183" y="156">N/A</text><text class="t" x="232" y="156">DATE</text><text class="b" x="380" y="156">N·N</text>
<use href="#o" y="171"/><text x="24" y="176">마감기한</text><text x="105" y="176">cendday</text><text class="d" x="183" y="176">N/A</text><text class="t" x="232" y="176">DATE</text><text class="b" x="380" y="176">N·N</text>
<use href="#o" y="191"/><text x="24" y="196">썸네일</text><text x="105" y="196">cthumbnail</text><text class="d" x="183" y="196">N/A</text><text class="t" x="232" y="196">VARCHAR2(100 char)</text><text class="b" x="380" y="196">N·N</text>
<use href="#o" y="211"/><text x="24" y="216">상세설명</text><text x="105" y="216">ccontent</text><text class="d" x="183" y="216">N/A</text><text class="t" x="232" y="216">CLOB</text><text class="b" x="380" y="216">N·N</text>
<use href="#o" y="231"/><text x="24" y="236">참여횟수</text><text x="105" y="236">cjoincnt</text><text class="d" x="183" y="236">N/A</text><text class="t" x="232" y="236">NUMBER(5)</text><text class="u" x="380" y="236">NULL</text>
<use href="#fk" y="251"/><text class="f" x="24" y="256">기업아이디</text><text class="f" x="105" y="256">corp_id</text><text class="d" x="183" y="256">N/A</text><text class="t" x="232" y="256">VARCHAR2(20 char)</text><text class="b" x="380" y="256">N·N</text>
</g>
</svg>
